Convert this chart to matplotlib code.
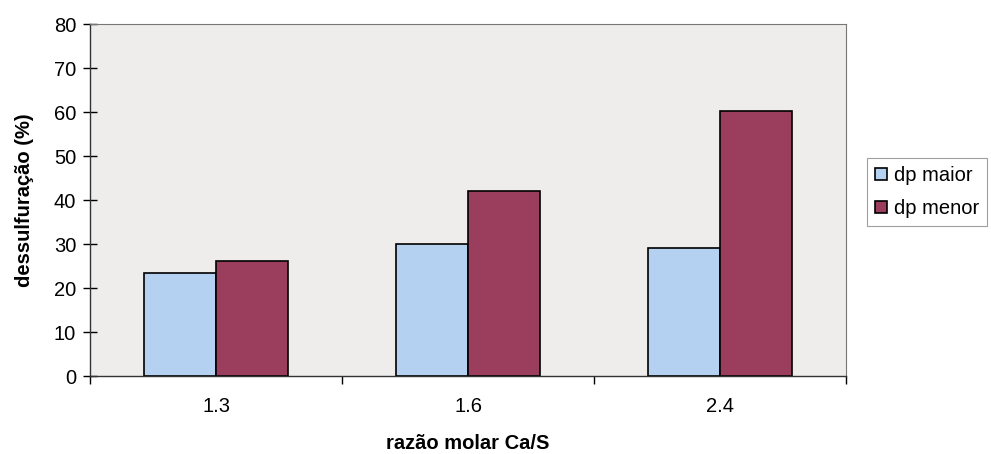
import matplotlib
matplotlib.use("Agg")
import matplotlib.pyplot as plt
import numpy as np

categories = ["1.3", "1.6", "2.4"]
dp_maior = [23.5, 30.0, 29.2]
dp_menor = [26.2, 42.0, 60.2]
series_names = ["dp maior", "dp menor"]

plt.rcParams["font.family"] = ["Liberation Sans", "DejaVu Sans"]

fig = plt.figure(figsize=(9.91, 4.54), dpi=100)
ax = fig.add_axes([90 / 991, 1 - 376 / 454, 756 / 991, 352 / 454])
ax.set_facecolor("#EEEDEB")

x = np.arange(len(categories))
w = 1 / 3.5
ax.bar(x - w / 2, dp_maior, w, color="#B5D1F1", edgecolor="black", linewidth=1.2, label=series_names[0])
ax.bar(x + w / 2, dp_menor, w, color="#9B3D5C", edgecolor="black", linewidth=1.2, label=series_names[1])

ax.set_xlim(-0.5, len(categories) - 0.5)
ax.set_ylim(0, 80)
ax.set_yticks(range(0, 81, 10))
ax.set_xticks(x)
ax.set_xticklabels(categories)
ax.set_xticks(np.arange(len(categories) + 1) - 0.5, minor=True)
ax.tick_params(axis="x", which="major", length=0, pad=15, labelsize=14.5)
ax.tick_params(axis="x", which="minor", length=6, width=1, direction="out")
ax.tick_params(axis="y", length=10, width=1, direction="inout", labelsize=14.5, pad=5)

for side in ["top", "right"]:
    ax.spines[side].set_color("#777777")
    ax.spines[side].set_linewidth(0.8)
for side in ["left", "bottom"]:
    ax.spines[side].set_color("#333333")
    ax.spines[side].set_linewidth(1.0)

ax.set_ylabel("dessulfuração (%)", fontsize=14.5, fontweight="bold", labelpad=14)
ax.set_xlabel("razão molar Ca/S", fontsize=14.5, fontweight="bold", labelpad=13)

leg = fig.legend(loc="upper left", bbox_to_anchor=(867 / 991, 1 - 158 / 454), fontsize=14.5,
                 frameon=True, fancybox=False, edgecolor="#888888", handlelength=0.6,
                 handleheight=0.6, handletextpad=0.35, borderpad=0.4, labelspacing=0.7,
                 borderaxespad=0)
leg.get_frame().set_linewidth(0.8)

fig.savefig("out.png", dpi=100, facecolor="white")
